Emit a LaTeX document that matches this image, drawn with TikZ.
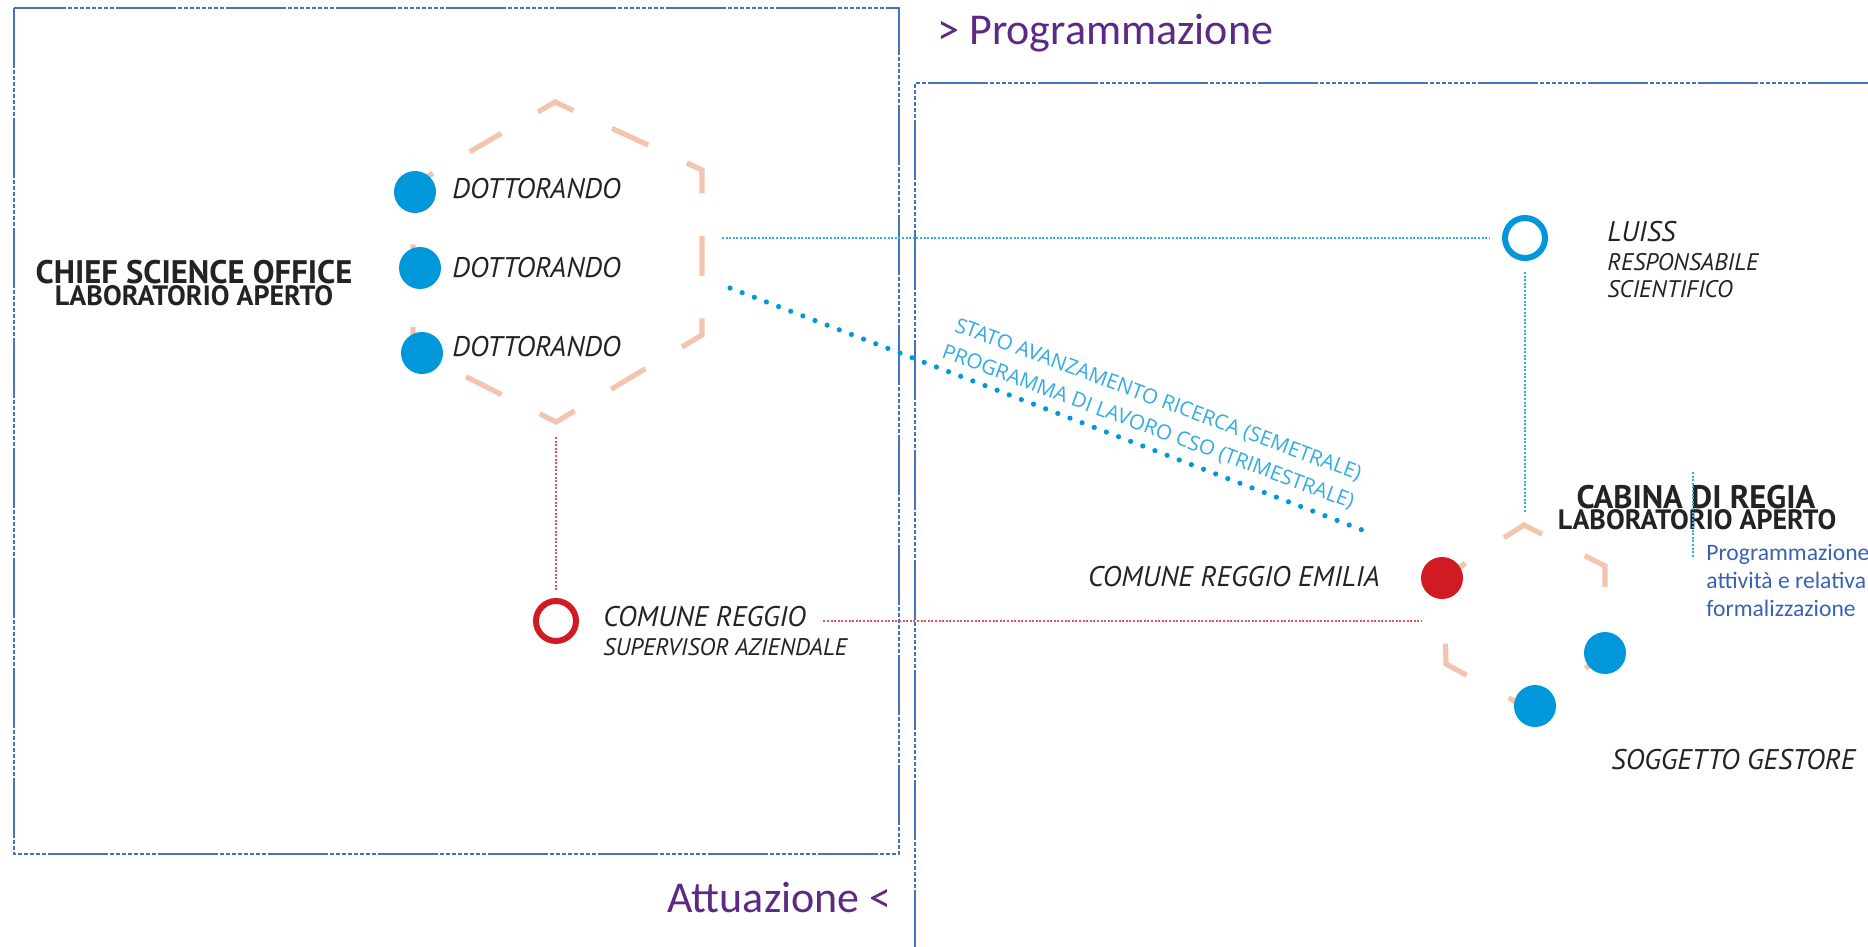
\documentclass[tikz,border=0pt]{standalone}
\usepackage{fontspec}
\setmainfont{PT Sans}
\newfontfamily\calibri{Carlito}
\newfontfamily\opensans{Open Sans}
\usetikzlibrary{positioning}

\definecolor{bluframe}{RGB}{68,114,196}
\definecolor{viola}{RGB}{92,42,132}
\definecolor{celeste}{RGB}{0,152,218}
\definecolor{celestel}{RGB}{50,172,228}
\definecolor{rosso}{RGB}{208,26,36}
\definecolor{rossol}{RGB}{230,80,95}
\definecolor{pesca}{RGB}{244,196,176}
\definecolor{blutesto}{RGB}{58,98,178}
\definecolor{nero}{RGB}{35,35,35}

\begin{document}
\begin{tikzpicture}[x=0.5pt,y=-0.5pt,
	cornice/.style={draw=bluframe,line width=0.9pt,dash pattern=on 30pt off 1pt on 2pt off 1pt on 2pt off 1pt on 2pt off 1pt on 2pt off 1pt on 2pt off 1pt on 2pt off 1pt on 2pt off 1pt on 2pt off 1pt},
	esagono/.style={draw=pesca,line width=2.6pt},
	pallino/.style={circle,fill=#1,minimum size=21pt,inner sep=0pt},
	anello/.style={circle,draw=#1,line width=3pt,minimum size=20pt,inner sep=0pt},
	etichetta/.style={inner sep=0pt,text=nero,font=\itshape\fontsize{14.2}{16}\selectfont},
	piccola/.style={inner sep=0pt,text=nero,font=\itshape\fontsize{12}{14}\selectfont},
	titolo/.style={inner sep=0pt,text=nero,font=\bfseries\fontsize{16.3}{18}\selectfont},
	sottotitolo/.style={inner sep=0pt,text=nero,font=\bfseries\fontsize{14}{16}\selectfont},
	punti/.style={draw=celestel,line width=1.3pt,dash pattern=on 1pt off 0.8pt},
	puntirossi/.style={draw=rossol,line width=1.3pt,dash pattern=on 1pt off 0.8pt},
	puntoni/.style={draw=celeste,line width=2.6pt,line cap=round,dash pattern=on 0pt off 6.5pt},
	fase/.style={inner sep=0pt,text=viola,font=\calibri\fontsize{22}{26}\selectfont},
	nota/.style={inner sep=0pt,align=left,text=blutesto,font=\calibri\fontsize{11.8}{14}\selectfont},
	diag/.style={inner sep=0pt,align=center,rotate=-20.3,text=celestel,font=\opensans\fontsize{10.3}{14.5}\selectfont}
	]
	\fill[white] (0,0) rectangle (1868,947);
	\useasboundingbox (0,0) rectangle (1868,947);

	% cornici
	\draw[cornice] (14,8) rectangle (899,854);
	\draw[cornice] (1868,83) -- (915,83) -- (915,947);
	\node[fase,anchor=base west] (prog) at (937,45) {> Programmazione};
	\node[fase,anchor=base east] (attu) at (892,912) {Attuazione <};

	% esagoni
	\draw[esagono,dash pattern=on 20pt off 21.25pt,dash phase=10pt] (484,143.5) -- (555,102) -- (702,170) -- (702,335) -- (556,422) -- (413,350) -- (413,185) -- cycle;
	\draw[esagono,dash pattern=on 22pt off 23.8pt,dash phase=33.9pt] (1484,550.5) -- (1524,525) -- (1605,566) -- (1605,655) -- (1527,708) -- (1446,664) -- (1444,578) -- cycle;
	\coordinate (csoBot) at (556,422);
	\coordinate (csoE) at (722,238);
	\coordinate (cabTop) at (1525,513);

	% chief science office
	\node[titolo] (cso) at (194,272) {CHIEF SCIENCE OFFICE};
	\node[sottotitolo] (csoSub) at (194,296) {LABORATORIO APERTO};
	\node[pallino=celeste] (dott1) at (415,192) {};
	\node[pallino=celeste] (dott2) at (420,268) {};
	\node[pallino=celeste] (dott3) at (422,353) {};
	\foreach \n/\y in {1/189,2/268,3/347}
		\node[etichetta,anchor=west] (tdott\n) at (452,\y) {DOTTORANDO};

	% luiss
	\node[anello=celeste] (luiss) at (1525,238) {};
	\node[etichetta,anchor=west] (tluiss) at (1607,232) {LUISS};
	\node[piccola,anchor=west] (tresp) at (1607,262) {RESPONSABILE};
	\node[piccola,anchor=west] (tsci) at (1607,289) {SCIENTIFICO};
	\draw[punti,shorten >=6.5pt] (csoE) -- (luiss);
	\draw[punti,shorten <=5.5pt] (luiss) -- (cabTop);

	% comune reggio
	\node[anello=rosso] (comune) at (556,621) {};
	\node[etichetta,anchor=west] (tcom1) at (603,617) {COMUNE REGGIO};
	\node[piccola,anchor=west] (tcom2) at (603,647) {SUPERVISOR AZIENDALE};
	\coordinate (comEnd) at (1421,621);
	\draw[puntirossi,shorten <=7.5pt,shorten >=3.5pt] (csoBot) -- (comune);
	\draw[puntirossi,shorten <=8.5pt] (tcom1.east |- comune) -- (comEnd);

	% stato avanzamento
	\coordinate (diagA) at (730,288);
	\coordinate (diagB) at (1370,533);
	\draw[puntoni] (diagA) -- (diagB);
	\node[diag] (avanz) at (1153,414) {STATO AVANZAMENTO RICERCA (SEMETRALE)\\PROGRAMMA DI LAVORO CSO (TRIMESTRALE)};

	% cabina di regia
	\node[titolo] (cabina) at (1696,497) {CABINA DI REGIA};
	\node[sottotitolo] (cabSub) at (1697,520) {LABORATORIO APERTO};
	\coordinate (progA) at (1693,472);
	\coordinate (progB) at (1693,558);
	\draw[punti] (progA) -- (progB);
	\node[nota,anchor=north west] (tprog) at (1706,544) {Programmazione\\attività e relativa\\formalizzazione};
	\node[pallino=rosso] (crem) at (1442,578) {};
	\node[etichetta,anchor=east] (tcrem) at (1380,577) {COMUNE REGGIO EMILIA};
	\node[pallino=celeste] (sg1) at (1605,653) {};
	\node[pallino=celeste] (sg2) at (1535,706) {};
	\node[etichetta,anchor=west] (tsg) at (1611,760) {SOGGETTO GESTORE};
\end{tikzpicture}
\end{document}
